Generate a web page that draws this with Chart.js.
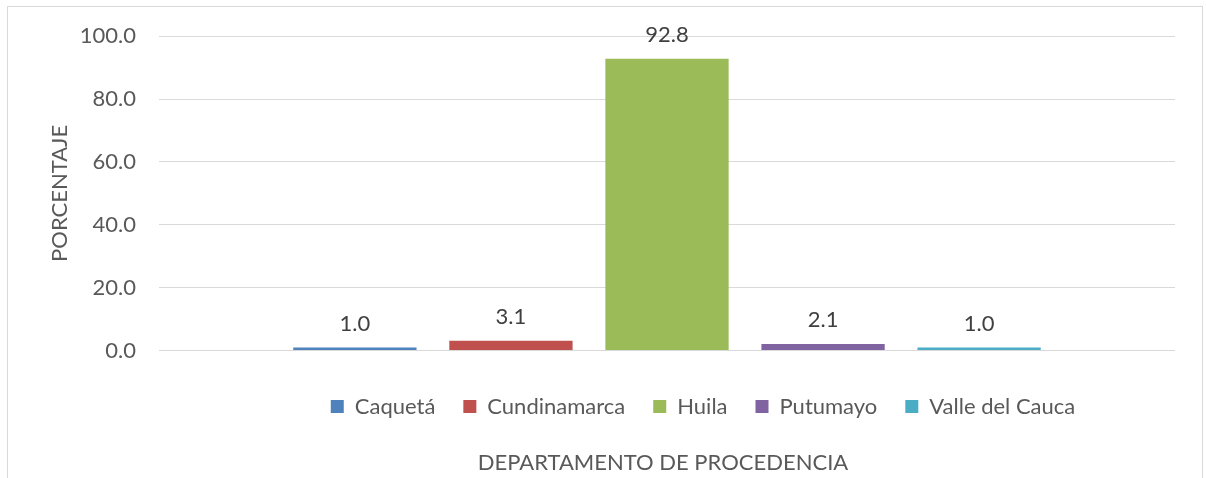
<!DOCTYPE html>
<html>
<head>
<meta charset="utf-8">
<script src="https://cdn.jsdelivr.net/npm/chart.js@4/dist/chart.umd.min.js"></script>
<style>
  html, body { margin: 0; padding: 0; background: #fff; }
  #wrap { width: 1206px; height: 478px; }
</style>
</head>
<body>
<div id="wrap"><canvas id="chart" width="1206" height="478"></canvas></div>
<script>
// departamentos y porcentajes
const departamentos = ['Caquetá', 'Cundinamarca', 'Huila', 'Putumayo', 'Valle del Cauca'];
const porcentajes = [1.0, 3.1, 92.8, 2.1, 1.0];
const yTicks = [0, 20, 40, 60, 80, 100];
const colores = ['#4f81bd', '#c0504d', '#9bbb59', '#8064a2', '#4bacc6'];

const fontFam = 'Lato, "Open Sans", sans-serif';
const fontSize = 22;
const textColor = '#595959';

// border around the whole chart
const frame = {
  id: 'frame',
  beforeDraw(chart) {
    const ctx = chart.ctx;
    ctx.save();
    ctx.strokeStyle = '#d9d9d9';
    ctx.lineWidth = 1;
    ctx.strokeRect(7.5, 6.5, 1195, 490);
    ctx.restore();
  }
};

// legend and bottom title in the original sit right of center
const shiftBoxes = {
  id: 'shiftBoxes',
  afterLayout(chart) {
    chart.legend.left += 94;
    chart.legend.right += 94;
    chart.titleBlock.left += 54;
    chart.titleBlock.right += 54;
  }
};

// value labels above each bar
const valueLabels = {
  id: 'valueLabels',
  afterDatasetsDraw(chart) {
    const ctx = chart.ctx;
    ctx.save();
    ctx.font = fontSize + 'px ' + fontFam;
    ctx.fillStyle = '#404040';
    ctx.textAlign = 'center';
    ctx.textBaseline = 'middle';
    chart.data.datasets.forEach((ds, i) => {
      const bar = chart.getDatasetMeta(i).data[0];
      ctx.fillText(ds.data[0].toFixed(1), bar.x, bar.y - 24);
    });
    ctx.restore();
  }
};

const datasets = departamentos.map((d, i) => ({
  label: d,
  data: [porcentajes[i]],
  backgroundColor: colores[i],
  borderWidth: 0,
  categoryPercentage: 0.768,
  barPercentage: 0.79
}));

new Chart(document.getElementById('chart'), {
  type: 'bar',
  data: { labels: [''], datasets: datasets },
  options: {
    responsive: false,
    animation: false,
    layout: { padding: { left: 43, right: 31, top: 36, bottom: 0 } },
    plugins: {
      legend: {
        position: 'bottom',
        labels: {
          boxWidth: 13,
          boxHeight: 13,
          padding: 28,
          color: textColor,
          font: { family: fontFam, size: fontSize }
        }
      },
      title: {
        display: true,
        position: 'bottom',
        text: 'DEPARTAMENTO DE PROCEDENCIA',
        color: textColor,
        font: { family: fontFam, size: fontSize, weight: 'normal' },
        padding: { top: 22, bottom: 2 }
      },
      tooltip: { enabled: false }
    },
    scales: {
      x: {
        ticks: { display: false },
        grid: { display: false },
        border: { display: false },
        afterFit(scale) { scale.height = 17; }
      },
      y: {
        min: 0,
        max: 100,
        afterBuildTicks(scale) {
          scale.ticks = yTicks.map(v => ({ value: v }));
        },
        afterFit(scale) { scale.width = 116; },
        ticks: {
          padding: 23,
          color: textColor,
          font: { family: fontFam, size: fontSize },
          callback: v => v.toFixed(1)
        },
        grid: {
          color: '#d9d9d9',
          lineWidth: 1,
          drawTicks: false
        },
        border: { display: false },
        title: {
          display: true,
          text: 'PORCENTAJE',
          color: textColor,
          font: { family: fontFam, size: fontSize }
        }
      }
    }
  },
  plugins: [frame, shiftBoxes, valueLabels]
});
</script>
</body>
</html>
